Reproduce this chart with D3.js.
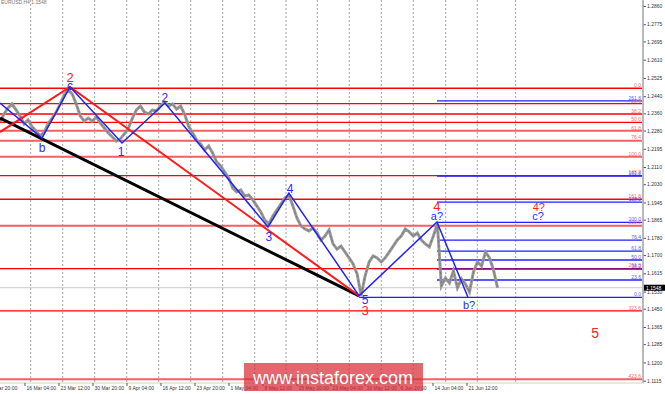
<!DOCTYPE html>
<html>
<head>
<meta charset="utf-8">
<script src="https://cdn.jsdelivr.net/npm/d3@7"></script>
<style>
  body { margin: 0; background: #fff; }
  svg { display: block; }
  text { font-family: "Liberation Sans", Arial, sans-serif; }
</style>
</head>
<body>
<div class="chart"></div>
<script>
// EURUSD H4 with wave count + two fibo grids
const widthOfSvg = 665;
const heightOfSvg = 394;
const plotRight = 642;
const plotBottom = 383;

// closes, one per bar
const closes = [
  1.2320, 1.2357, 1.2385, 1.2404, 1.2376, 1.2348, 1.2311, 1.2329, 1.2297, 1.2278,
  1.2255, 1.2273, 1.2311, 1.2338, 1.2366, 1.2404, 1.2446, 1.2469, 1.2450, 1.2404,
  1.2348, 1.2324, 1.2338, 1.2324, 1.2343, 1.2315, 1.2292, 1.2269, 1.2250, 1.2231,
  1.2241, 1.2264, 1.2292, 1.2338, 1.2376, 1.2394, 1.2366, 1.2357, 1.2376, 1.2371,
  1.2394, 1.2413, 1.2394, 1.2404, 1.2380, 1.2394, 1.2357, 1.2301, 1.2269, 1.2236,
  1.2217, 1.2189, 1.2208, 1.2175, 1.2134, 1.2115, 1.2087, 1.2059, 1.2012, 1.1994,
  1.2003, 1.1975, 1.1980, 1.1957, 1.1929, 1.1901, 1.1863, 1.1845, 1.1882, 1.1910,
  1.1938, 1.1966, 1.1980, 1.1929, 1.1873, 1.1836, 1.1822, 1.1812, 1.1826, 1.1803,
  1.1770, 1.1789, 1.1817, 1.1752, 1.1728, 1.1742, 1.1714, 1.1687, 1.1659, 1.1612,
  1.1512, 1.1603, 1.1668, 1.1696, 1.1687, 1.1668, 1.1687, 1.1714, 1.1742, 1.1770,
  1.1789, 1.1822, 1.1808, 1.1789, 1.1803, 1.1770, 1.1752, 1.1738, 1.1789, 1.1845,
  1.1556, 1.1593, 1.1570, 1.1626, 1.1547, 1.1589, 1.1565, 1.1528, 1.1621, 1.1668,
  1.1649, 1.1714, 1.1687, 1.1630, 1.1548
];
const lastPrice = 1.1548;

// right price scale
const priceTicks = [1.2860, 1.2775, 1.2695, 1.2610, 1.2525, 1.2440, 1.2360, 1.2280, 1.2195,
  1.2110, 1.2030, 1.1945, 1.1865, 1.1780, 1.1700, 1.1615, 1.1530, 1.1450, 1.1365, 1.1285,
  1.1200, 1.1115];

// time scale (bar positions)
const dateLabels = ["8 Mar 20:00", "16 Mar 04:00", "23 Mar 12:00", "30 Mar 20:00", "9 Apr 04:00",
  "16 Apr 12:00", "23 Apr 20:00", "1 May 04:00", "8 May 12:00", "15 May 20:00", "23 May 04:00",
  "30 May 12:00", "6 Jun 20:00", "14 Jun 04:00", "21 Jun 12:00"];
const dateBars = [-2.74, 6.23, 14.70, 23.18, 31.65, 40.12, 48.60, 57.07, 65.55, 74.02, 82.49,
  90.97, 99.44, 107.91, 116.39];
const gridBars = [7.65, 15.63, 23.60, 31.58, 39.55, 47.53, 55.50, 63.48, 71.28, 79.08, 87.05,
  95.03, 103.0, 111.08, 118.95, 128.52];

// red fibo (whole width)
const redFibLabels = ["0.0", "23.6", "38.2", "50.0", "61.8", "76.4", "100.0", "138.2", "161.8",
  "200.0", "261.8", "323.6", "423.6"];
const redFibPrices = [1.2477, 1.2405, 1.2357, 1.2318, 1.2279, 1.2233, 1.2158, 1.2070, 1.1960,
  1.1837, 1.1637, 1.1440, 1.1122];

// blue fibo (from wave a?)
const blueFibLabels = ["261.8", "161.8", "138.2", "100.0", "76.4", "61.8", "50.0", "38.2", "23.6", "0.0"];
const blueFibPrices = [1.2418, 1.2068, 1.1947, 1.1852, 1.1770, 1.1718, 1.1677, 1.1635, 1.1584, 1.1503];

// wave lines: [bar, price]
const blackTrend = [[0, 1.2338], [89.5, 1.1510]];
const redWave = [[0, 1.2273], [17.45, 1.2483], [89.5, 1.1510]];
const blueWave = [[0, 1.2408], [10.47, 1.2245], [17.45, 1.2483], [30.4, 1.2222], [41.1, 1.2408],
  [66.8, 1.1831], [72.0, 1.1989], [89.5, 1.1510], [108.9, 1.1854], [116.6, 1.1505]];

// wave marks: text, bar, price, colour group
const waveMarks = [
  ["2", 17.45, 1.2525, "red"], ["c", 17.45, 1.2488, "blue"], ["b", 10.47, 1.2199, "blue"],
  ["1", 30.15, 1.2180, "blue"], ["2", 41.1, 1.2432, "blue"], ["3", 67.0, 1.1784, "blue"],
  ["4", 72.3, 1.2008, "blue"], ["5", 91.0, 1.1491, "blue"], ["3", 91.0, 1.1444, "red"],
  ["4", 108.9, 1.1924, "red"], ["a?", 108.9, 1.1882, "blue"], ["4?", 134.3, 1.1924, "red"],
  ["c?", 134.1, 1.1882, "blue"], ["b?", 116.9, 1.1468, "blue"], ["5", 148.3, 1.1337, "red"]
];

const xScale = d3.scaleLinear().domain([0, 160]).range([0, plotRight]);
const yScale = d3.scaleLinear().domain([1.1115, 1.2860]).range([380.7, 6]);

const chart = d3.select(".chart")
  .append("svg")
  .attr("width", widthOfSvg)
  .attr("height", heightOfSvg);

chart.append("rect").attr("width", widthOfSvg).attr("height", heightOfSvg).attr("fill", "#fff");

// vertical grid
chart.selectAll(".grid")
  .data(gridBars)
  .enter()
  .append("line")
  .attr("x1", d => xScale(d)).attr("x2", d => xScale(d))
  .attr("y1", 0).attr("y2", plotBottom)
  .attr("stroke", "#8a8a8a")
  .attr("stroke-width", 0.8)
  .attr("stroke-dasharray", "2,2");

// red fibo lines
const softRed = new Set(["61.8", "76.4", "100.0", "200.0", "423.6"]);
chart.selectAll(".redfib")
  .data(redFibPrices)
  .enter()
  .append("line")
  .attr("x1", 0).attr("x2", plotRight)
  .attr("y1", d => yScale(d)).attr("y2", d => yScale(d))
  .attr("stroke", (d, i) => softRed.has(redFibLabels[i]) ? "#f46060" : "#ff0000")
  .attr("stroke-width", (d, i) => softRed.has(redFibLabels[i]) ? 2 : 1.3);

// blue fibo lines, start at a? (0.0 runs from wave 5)
const aBar = blueWave[8][0];
const fiveBar = blueWave[7][0];
chart.selectAll(".bluefib")
  .data(blueFibPrices)
  .enter()
  .append("line")
  .attr("x1", (d, i) => xScale(blueFibLabels[i] === "0.0" ? fiveBar : aBar))
  .attr("x2", plotRight)
  .attr("y1", d => yScale(d)).attr("y2", d => yScale(d))
  .attr("stroke", "#1f1fff")
  .attr("stroke-width", 1.3);

// bid line
chart.append("line")
  .attr("x1", 0).attr("x2", plotRight)
  .attr("y1", yScale(lastPrice)).attr("y2", yScale(lastPrice))
  .attr("stroke", "#c8c8c8").attr("stroke-width", 1);

// price
const priceLine = d3.line()
  .x((d, i) => xScale(i))
  .y(d => yScale(d));
chart.append("path")
  .datum(closes)
  .attr("d", priceLine)
  .attr("fill", "none")
  .attr("stroke", "#9a9a9a")
  .attr("stroke-width", 3)
  .attr("stroke-linejoin", "miter");
chart.append("path")
  .datum(closes)
  .attr("d", priceLine)
  .attr("fill", "none")
  .attr("stroke", "#707070")
  .attr("stroke-width", 0.8)
  .attr("stroke-dasharray", "3,1.5");

// waves
const waveLine = d3.line().x(d => xScale(d[0])).y(d => yScale(d[1]));
chart.append("path").datum(blackTrend).attr("d", waveLine)
  .attr("fill", "none").attr("stroke", "#000").attr("stroke-width", 3);
chart.append("path").datum(redWave).attr("d", waveLine)
  .attr("fill", "none").attr("stroke", "#ff1a1a").attr("stroke-width", 2);
chart.append("path").datum(blueWave).attr("d", waveLine)
  .attr("fill", "none").attr("stroke", "#2020ff").attr("stroke-width", 1.5);

function markSize(d) {
  if (d[3] === "red" && d[0] === "5") return 14;
  if (d[0].length > 1) return 11;
  if (d[3] === "red") return 13;
  return 12;
}
chart.selectAll(".mark")
  .data(waveMarks)
  .enter()
  .append("text")
  .attr("x", d => xScale(d[1]))
  .attr("y", d => yScale(d[2]))
  .attr("text-anchor", "middle")
  .attr("dominant-baseline", "central")
  .attr("font-size", markSize)
  .attr("fill", d => d[3] === "red" ? "#ff2020" : "#2a2aff")
  .text(d => d[0]);

// fibo level labels
chart.selectAll(".redfibtxt")
  .data(redFibPrices)
  .enter()
  .append("text")
  .attr("x", plotRight - 1)
  .attr("y", d => yScale(d) - 1.2)
  .attr("text-anchor", "end")
  .attr("font-size", 5)
  .attr("fill", "#ff6a6a")
  .text((d, i) => redFibLabels[i]);
chart.selectAll(".bluefibtxt")
  .data(blueFibPrices)
  .enter()
  .append("text")
  .attr("x", plotRight - 1)
  .attr("y", d => yScale(d) - 1.2)
  .attr("text-anchor", "end")
  .attr("font-size", 5)
  .attr("fill", "#5a5aff")
  .text((d, i) => blueFibLabels[i]);

// right axis
const yAxis = d3.axisRight(yScale)
  .tickValues(priceTicks)
  .tickFormat(d3.format(".4f"))
  .tickSize(3)
  .tickPadding(1);
const yAxisG = chart.append("g")
  .attr("transform", "translate(" + (plotRight + 1) + ",0)")
  .call(yAxis);
yAxisG.select(".domain").remove();
yAxisG.selectAll("text").attr("font-size", 5).attr("fill", "#333").attr("font-family", null);
yAxisG.selectAll("line").attr("stroke", "#555");
chart.append("line")
  .attr("x1", plotRight + 1).attr("x2", plotRight + 1)
  .attr("y1", 0).attr("y2", plotBottom)
  .attr("stroke", "#a8a8a8").attr("stroke-width", 1.6);

// bottom axis
chart.append("line")
  .attr("x1", 0).attr("x2", plotRight + 2)
  .attr("y1", plotBottom).attr("y2", plotBottom)
  .attr("stroke", "#d0d0d0").attr("stroke-width", 1);
chart.selectAll(".dtick")
  .data(dateBars)
  .enter()
  .append("line")
  .attr("x1", d => xScale(d)).attr("x2", d => xScale(d))
  .attr("y1", plotBottom).attr("y2", plotBottom + 3)
  .attr("stroke", "#555");
chart.selectAll(".dlabel")
  .data(dateLabels)
  .enter()
  .append("text")
  .attr("x", (d, i) => xScale(dateBars[i]) + 1.5)
  .attr("y", plotBottom + 6.5)
  .attr("font-size", 5)
  .attr("fill", "#333")
  .text(d => d);

// last price box
chart.append("rect")
  .attr("x", plotRight + 2).attr("y", yScale(lastPrice) - 3)
  .attr("width", 21).attr("height", 6)
  .attr("fill", "#000");
chart.append("text")
  .attr("x", plotRight + 4).attr("y", yScale(lastPrice))
  .attr("dominant-baseline", "central")
  .attr("font-size", 5)
  .attr("fill", "#fff")
  .text(d3.format(".4f")(lastPrice));

// corner caption
chart.append("text")
  .attr("x", 1).attr("y", 3.5)
  .attr("font-size", 5)
  .attr("fill", "#777")
  .text("EURUSD,H4 1.1548");

// watermark
chart.append("rect")
  .attr("x", 244).attr("y", 363)
  .attr("width", 179).attr("height", 28)
  .attr("fill", "rgb(215,45,55)")
  .attr("opacity", 0.72);
chart.append("text")
  .attr("x", 333).attr("y", 384)
  .attr("text-anchor", "middle")
  .attr("font-size", 18)
  .attr("fill", "#fff")
  .text("www.instaforex.com");
</script>
</body>
</html>
